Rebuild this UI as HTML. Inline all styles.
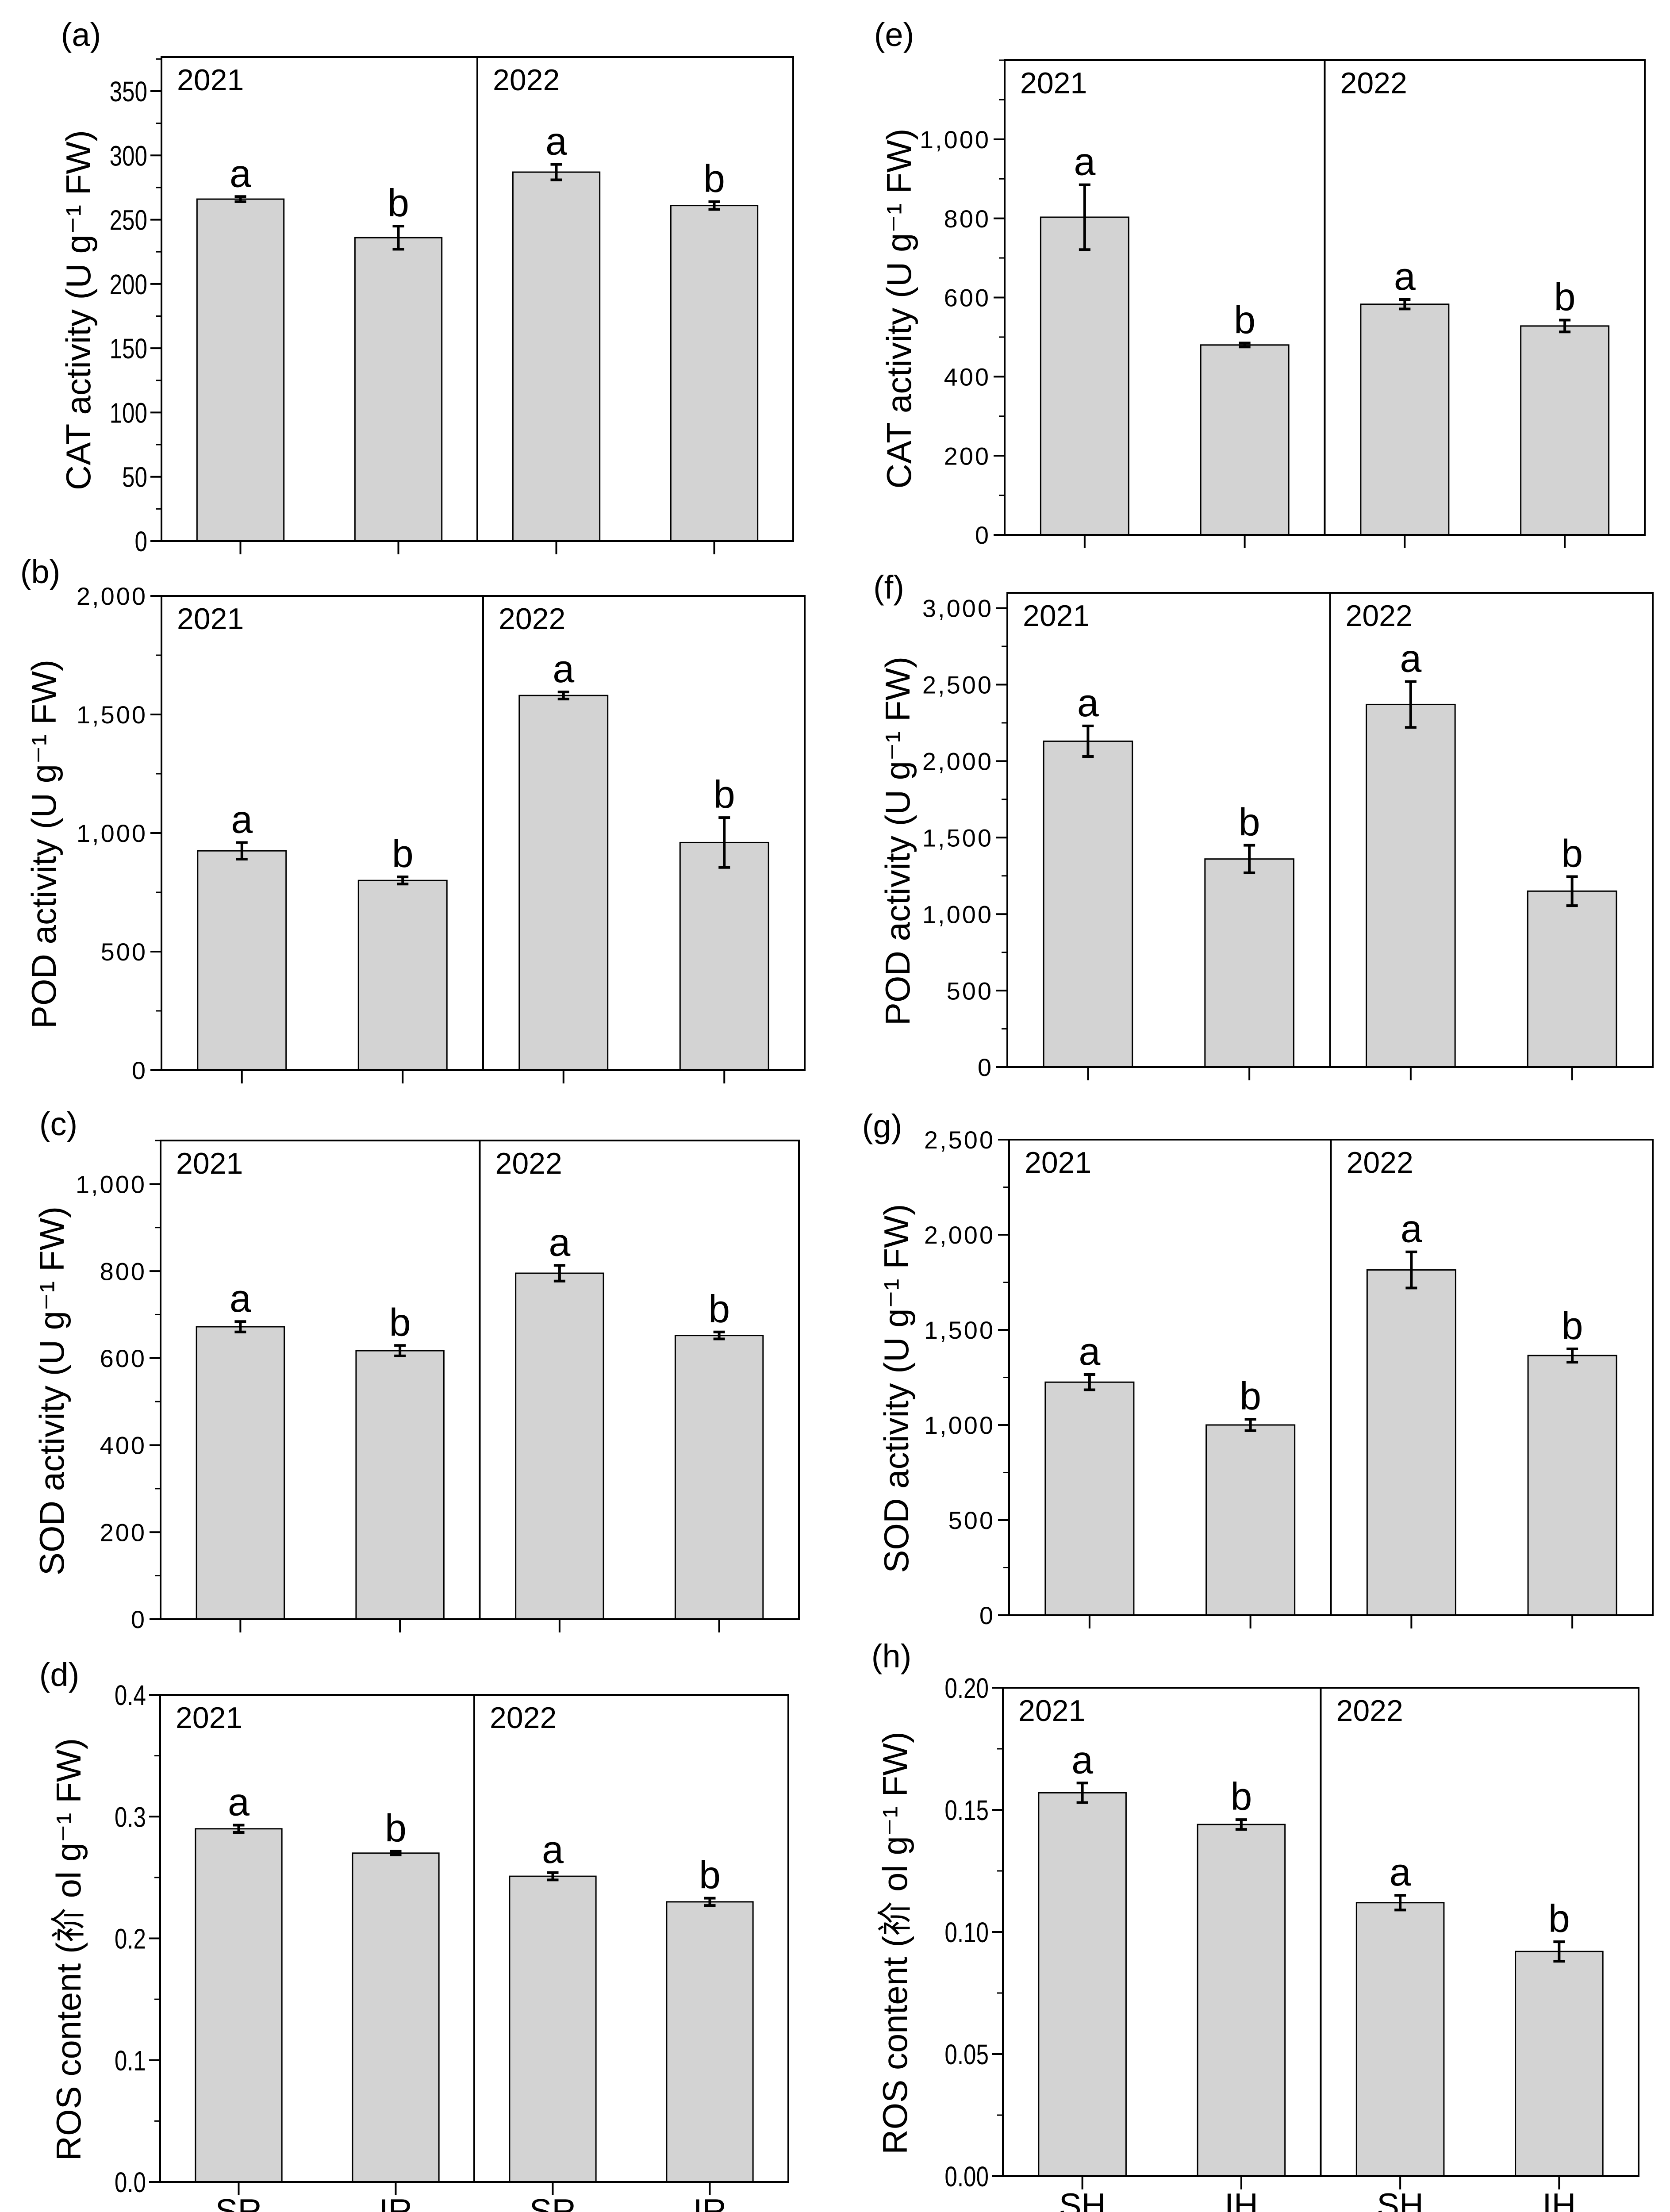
<!DOCTYPE html>
<html><head><meta charset="utf-8"><style>
html,body{margin:0;padding:0;background:#fff;width:3775px;height:5041px;overflow:hidden;}
svg{display:block;}
text{font-family:"Liberation Sans","Noto Sans CJK SC",sans-serif;fill:#000;}
</style></head>
<body>
<svg id="fig" width="3775" height="5041" viewBox="0 0 3775 5041" xmlns="http://www.w3.org/2000/svg" overflow="hidden"></svg>
<script>
// ---- data ----
const catsRoot = ["SR","IR","SR","IR"];
const catsLeaf = ["SH","IH","SH","IH"];
const years = ["2021","2022"];
const letters = ["a","b","a","b"];
const valA = [266,236,287,261];   const errA = [2,9,6,3];
const valB = [925,800,1580,960];  const errB = [35,15,15,105];
const valC = [672,617,795,652];   const errC = [12,12,18,8];
const valD = [0.290,0.270,0.251,0.230]; const errD = [0.003,0.0015,0.003,0.003];
const valE = [803,480,583,528];   const errE = [82,5,12,15];
const valF = [2130,1360,2370,1150]; const errF = [100,90,150,95];
const valG = [1225,1000,1815,1365]; const errG = [40,30,95,35];
const valH = [0.157,0.144,0.112,0.092]; const errH = [0.004,0.002,0.003,0.004];
const ticksA = [0,50,100,150,200,250,300,350];
const ticksB = [0,500,1000,1500,2000];
const ticksC = [0,200,400,600,800,1000];
const ticksD = [0.0,0.1,0.2,0.3,0.4];
const ticksE = [0,200,400,600,800,1000];
const ticksF = [0,500,1000,1500,2000,2500,3000];
const ticksG = [0,500,1000,1500,2000,2500];
const ticksH = [0,0.05,0.10,0.15,0.20];

const NS="http://www.w3.org/2000/svg";
const svg=document.getElementById('fig');
function mk(tag,attrs,parent){const e=document.createElementNS(NS,tag);for(const k in attrs)e.setAttribute(k,attrs[k]);(parent||svg).appendChild(e);return e;}

const panels=[
 {id:'a',lab:[183,79],x0:365,x1:1793,y0:129,y1:1223,ymax:376.5,minor:25,ticks:ticksA,fmt:v=>String(v),vals:valA,errs:errA,title:'CAT activity (U g⁻¹ FW)',tx:178,cats:null,tf:64,cond:true},
 {id:'b',lab:[91,1293],x0:365,x1:1819,y0:1347,y1:2419,ymax:2000,minor:250,ticks:ticksB,fmt:v=>v.toLocaleString('en-US'),vals:valB,errs:errB,title:'POD activity (U g⁻¹ FW)',tx:100,cats:null,tf:56},
 {id:'c',lab:[132,2541],x0:363,x1:1806,y0:2578,y1:3660,ymax:1100,minor:100,ticks:ticksC,fmt:v=>v.toLocaleString('en-US'),vals:valC,errs:errC,title:'SOD activity (U g⁻¹ FW)',tx:118,cats:null,tf:56},
 {id:'d',lab:[134,3786],x0:362,x1:1782,y0:3831,y1:4932,ymax:0.4,minor:0.05,ticks:ticksD,fmt:v=>v.toFixed(1),vals:valD,errs:errD,title:'ROS content (祄 ol g⁻¹ FW)',tx:156,cats:catsRoot,tf:64,cond:true},
 {id:'e',lab:[2021,79],x0:2271,x1:3718,y0:136,y1:1209,ymax:1200,minor:100,ticks:ticksE,fmt:v=>v.toLocaleString('en-US'),vals:valE,errs:errE,title:'CAT activity (U g⁻¹ FW)',tx:2033,cats:null,tf:56},
 {id:'f',lab:[2009,1328],x0:2277,x1:3736,y0:1340,y1:2412,ymax:3100,minor:250,ticks:ticksF,fmt:v=>v.toLocaleString('en-US'),vals:valF,errs:errF,title:'POD activity (U g⁻¹ FW)',tx:2030,cats:null,tf:56},
 {id:'g',lab:[1994,2546],x0:2281,x1:3736,y0:2576,y1:3651,ymax:2500,minor:250,ticks:ticksG,fmt:v=>v.toLocaleString('en-US'),vals:valG,errs:errG,title:'SOD activity (U g⁻¹ FW)',tx:2027,cats:null,tf:56},
 {id:'h',lab:[2015,3744],x0:2267,x1:3704,y0:3815,y1:4919,ymax:0.2,minor:0.025,ticks:ticksH,fmt:v=>v.toFixed(2),vals:valH,errs:errH,title:'ROS content (祄 ol g⁻¹ FW)',tx:2024,cats:catsLeaf,tf:64,cond:true}
];

panels.forEach(p=>{
  const g=mk('g',{});
  
  
  const y=v=>p.y1-(v/p.ymax)*(p.y1-p.y0);
  const step=(p.x1-p.x0)/4;
  const x=i=>p.x0+step*(i+0.5);
  const bw=step*0.55;
  const pl=mk('text',{x:p.lab[0],y:p.lab[1]+25,'font-size':74,'text-anchor':'middle'},g);
  pl.textContent='('+p.id+')';
  
  
  p.vals.forEach((v,i)=>{
    const r=mk('rect',{x:x(i)-bw/2,y:y(v),width:bw,height:p.y1-y(v),fill:'#d3d3d3',stroke:'#000','stroke-width':3},g);
    
    
    const e=p.errs[i];
    const eb=mk('path',{d:`M${x(i)} ${y(v+e)}V${y(v-e)}M${x(i)-13} ${y(v+e)}H${x(i)+13}M${x(i)-13} ${y(v-e)}H${x(i)+13}`,stroke:'#000','stroke-width':6,fill:'none'},g);
    
    
    const lt=mk('text',{x:x(i),y:y(v+e)-22,'font-size':88,'text-anchor':'middle'},g);
    lt.textContent=letters[i];
    
    
    mk('line',{x1:x(i),x2:x(i),y1:p.y1,y2:p.y1+30,stroke:'#000','stroke-width':4},g);
    if(p.cats){
      const ct=mk('text',{x:x(i),y:p.y1+92,'font-size':76,'text-anchor':'middle'},g);
      ct.textContent=p.cats[i];
      
      
    }
  });
  const fr=mk('rect',{x:p.x0,y:p.y0,width:p.x1-p.x0,height:p.y1-p.y0,fill:'none',stroke:'#000','stroke-width':4},g);
  
  
  const xm=(p.x0+p.x1)/2;
  mk('line',{x1:xm,x2:xm,y1:p.y0,y2:p.y1,stroke:'#000','stroke-width':4},g);
  years.forEach((yr,k)=>{
    const t=mk('text',{x:(k?xm:p.x0)+35,y:p.y0+75,'font-size':68},g);
    t.textContent=yr;
    
    
  });
  for(let v=0; v<=p.ymax+1e-9; v+=p.minor){
    mk('line',{x1:p.x0-13,x2:p.x0,y1:y(v),y2:y(v),stroke:'#000','stroke-width':3},g);
  }
  p.ticks.forEach(v=>{
    mk('line',{x1:p.x0-25,x2:p.x0,y1:y(v),y2:y(v),stroke:'#000','stroke-width':4},g);
    const t=mk('text',{x:p.x0-32,y:y(v)+p.tf*0.36,'font-size':p.tf,'text-anchor':'end'},g);
    if(p.cond){t.setAttribute('transform',`translate(${p.x0-32} 0) scale(0.8 1) translate(${-(p.x0-32)} 0)`);}
    else t.setAttribute('letter-spacing','4');
    t.textContent=p.fmt(v);
    
    
  });
  const cy=(p.y0+p.y1)/2+25;
  const tt=mk('text',{x:p.tx,y:cy,'font-size':78,'text-anchor':'middle',transform:`rotate(-90 ${p.tx} ${cy})`,dy:26},g);
  tt.textContent=p.title;
  
  
});
</script>
</body></html>
